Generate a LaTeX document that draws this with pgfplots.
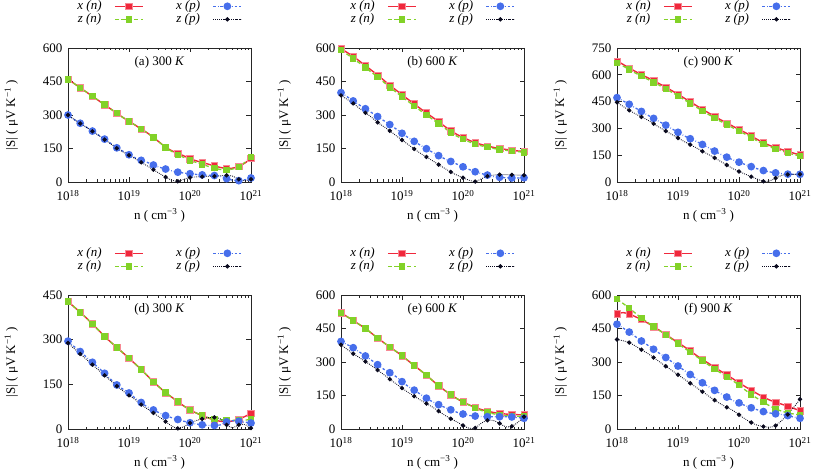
\documentclass[border=0pt]{standalone}
\usepackage{fontspec}
\setmainfont{Liberation Serif}
\usepackage{pgfplots}
\usepackage{pgfplotstable}
\pgfplotsset{compat=1.18}
\definecolor{cxn}{RGB}{240,40,60}
\definecolor{czn}{RGB}{130,210,40}
\definecolor{cxp}{RGB}{70,110,235}
\definecolor{czp}{RGB}{10,10,30}

\pgfplotstableread{
e xn zn xp zp
18.0 460 460 300 300
18.1 441 441 280 280
18.2 422 422 263 262
18.3 403 403 246 245
18.4 384 384 228 227
18.5 365 365 210 209
18.6 346 346 192 190
18.7 327 327 173 171
18.8 308 308 153 151
18.9 289 289 138 135
19.0 272 272 122 120
19.1 255 255 108 105
19.2 237 237 97 88
19.3 220 220 88 72
19.4 199 199 76 55
19.5 178 177 66 38
19.6 156 155 58 22
19.7 140 137 50 8
19.8 128 122 44 3
19.9 117 110 40 12
20.0 104 97 37 20
20.1 95 88 34 23
20.2 87 79 32 24
20.3 80 70 30 25
20.4 72 62 29 26
20.5 65 56 25 28
20.6 61 54 15 30
20.7 62 58 8 26
20.8 70 68 6 12
20.9 85 88 10 6
21.0 105 112 18 12
}\tabA

\pgfplotstableread{
e xn zn xp zp
18.0 597 590 400 388
18.1 580 572 382 370
18.2 562 553 363 352
18.3 542 533 345 330
18.4 521 512 328 310
18.5 500 491 311 290
18.6 479 470 293 267
18.7 456 447 275 248
18.8 433 424 257 229
18.9 412 403 238 208
19.0 391 382 218 188
19.1 370 361 199 168
19.2 350 341 182 148
19.3 329 320 165 129
19.4 309 300 149 112
19.5 290 281 133 95
19.6 270 261 118 78
19.7 249 241 104 61
19.8 230 222 92 45
19.9 213 205 80 31
20.0 200 192 68 19
20.1 187 180 56 8
20.2 176 170 46 2
20.3 168 162 38 14
20.4 161 156 31 26
20.5 155 150 25 31
20.6 150 146 21 33
20.7 146 142 19 33
20.8 142 139 18 32
20.9 139 136 18 31
21.0 137 133 19 30
}\tabB

\pgfplotstableread{
e xn zn xp zp
18.0 677 667 472 446
18.1 658 649 454 423
18.2 638 629 435 401
18.3 619 610 415 382
18.4 601 592 395 364
18.5 584 575 375 347
18.6 567 558 356 326
18.7 549 540 337 305
18.8 530 521 318 285
18.9 511 502 298 266
19.0 491 482 278 246
19.1 470 461 259 227
19.2 449 440 242 209
19.3 428 419 227 191
19.4 407 398 210 172
19.5 387 378 192 154
19.6 367 358 173 135
19.7 348 339 155 115
19.8 330 321 139 95
19.9 312 303 124 75
20.0 294 285 111 59
20.1 277 268 98 44
20.2 258 249 86 30
20.3 238 230 74 16
20.4 220 212 64 4
20.5 205 197 57 6
20.6 193 185 51 22
20.7 182 174 47 37
20.8 171 163 44 42
20.9 161 153 43 43
21.0 152 145 43 43
}\tabC

\pgfplotstableread{
e xn zn xp zp
18.0 428 428 295 289
18.1 410 410 277 270
18.2 392 392 260 252
18.3 373 373 242 234
18.4 353 353 224 216
18.5 332 332 206 198
18.6 311 311 187 180
18.7 292 292 167 162
18.8 274 274 148 144
18.9 256 256 134 128
19.0 238 238 121 113
19.1 219 219 104 99
19.2 200 200 89 82
19.3 179 179 74 68
19.4 158 158 64 54
19.5 140 140 54 40
19.6 122 122 45 25
19.7 107 107 38 10
19.8 92 92 32 2
19.9 77 77 26 8
20.0 64 64 21 20
20.1 54 54 17 28
20.2 45 45 14 34
20.3 37 38 12 38
20.4 30 33 12 39
20.5 26 31 14 34
20.6 25 30 24 14
20.7 27 29 28 4
20.8 33 29 26 14
20.9 42 30 23 15
21.0 52 32 20 3
}\tabD

\pgfplotstableread{
e xn zn xp zp
18.0 520 520 392 377
18.1 503 503 378 357
18.2 486 486 364 337
18.3 468 468 345 320
18.4 450 450 327 302
18.5 429 429 308 284
18.6 407 407 288 264
18.7 387 387 268 244
18.8 367 367 252 223
18.9 348 348 235 203
19.0 328 328 212 183
19.1 306 306 191 164
19.2 284 284 174 147
19.3 263 263 156 130
19.4 241 241 138 114
19.5 217 217 122 98
19.6 194 194 109 80
19.7 173 173 97 62
19.8 154 154 86 46
19.9 136 136 75 32
20.0 121 121 67 16
20.1 108 107 61 3
20.2 97 95 58 5
20.3 87 83 56 26
20.4 80 75 55 39
20.5 74 68 55 38
20.6 70 63 55 25
20.7 67 60 55 10
20.8 65 58 54 12
20.9 64 57 51 30
21.0 63 57 48 55
}\tabE

\pgfplotstableread{
e xn zn xp zp
18.0 516 582 469 401
18.1 521 562 452 395
18.2 515 541 434 387
18.3 503 519 414 372
18.4 490 497 394 355
18.5 475 478 376 339
18.6 458 459 357 320
18.7 441 441 338 300
18.8 423 422 320 281
18.9 405 402 301 262
19.0 387 382 282 243
19.1 369 363 263 224
19.2 350 344 244 205
19.3 330 325 225 186
19.4 312 306 207 167
19.5 294 287 190 148
19.6 276 269 173 129
19.7 259 251 158 112
19.8 242 233 143 97
19.9 225 216 128 83
20.0 207 196 117 64
20.1 190 175 105 45
20.2 174 155 95 29
20.3 158 137 86 17
20.4 143 120 78 11
20.5 130 104 72 8
20.6 120 90 68 15
20.7 111 80 65 38
20.8 102 72 60 65
20.9 92 67 53 98
21.0 82 63 48 133
}\tabF

\pgfplotsset{
 panel/.style={
  scale only axis, width=183pt, height=134pt,
  anchor=south west,
  xmin=18, xmax=21, ymin=0,
  xtick={18,19,20,21},
  xticklabels={10\textsuperscript{18},10\textsuperscript{19},10\textsuperscript{20},10\textsuperscript{21}},
  minor xtick={18.30103,18.47712,18.60206,18.69897,18.77815,18.84510,18.90309,18.95424,
               19.30103,19.47712,19.60206,19.69897,19.77815,19.84510,19.90309,19.95424,
               20.30103,20.47712,20.60206,20.69897,20.77815,20.84510,20.90309,20.95424},
  /pgf/number format/assume math mode=true,
  xticklabel style={yshift=-3.5pt},
  yticklabel style={xshift=-1pt},
  tick align=inside,
  major tick length=4.5pt, minor tick length=2.5pt,
  axis line style={line width=0.6pt, black!85},
  every tick/.style={black!85, line width=0.6pt},
  xlabel={n ( cm\textsuperscript{−3} )},
  ylabel={|S| ( μV K\textsuperscript{−1} )},
  x label style={at={(axis description cs:0.5,-0.25)}, anchor=center},
  y label style={at={(axis description cs:-0.31,0.5)}, anchor=center},
  legend columns=2, transpose legend, legend plot pos=right,
  legend style={at={(axis description cs:0.5,1)}, anchor=south, yshift=22pt,
     draw=none, fill=none, inner sep=0pt, row sep=0pt,
     nodes={inner sep=0.5pt, text height=9pt, text depth=3pt},
     /tikz/every odd column/.append style={column sep=12pt},
     /tikz/every even column/.append style={column sep=32pt}},
  legend image code/.code={\draw[mark repeat=2,mark phase=2,##1] plot coordinates {(0pt,0pt) (14pt,0pt) (28pt,0pt)};},
 },
 sxn/.style={color=cxn, solid, line width=1.4pt, smooth, mark=square*, mark size=3.2pt, mark repeat=2,
   mark options={solid, fill=cxn, draw=cxn!55!white, line width=0.6pt}},
 szn/.style={color=czn, dash pattern=on 4pt off 2.5pt, line width=1.3pt, smooth, mark=square*, mark size=2.6pt, mark repeat=2,
   mark options={solid, fill=czn, draw=czn}},
 sxp/.style={color=cxp, dash pattern=on 2.5pt off 2pt on 0.6pt off 2pt, line width=1.3pt, smooth, mark=*, mark size=3.2pt, mark repeat=2,
   mark options={solid, fill=cxp, draw=cxp}},
 szp/.style={color=czp, dash pattern=on 0.8pt off 1.2pt, line width=0.9pt, smooth, mark=*, mark size=1.7pt, mark repeat=2,
   mark options={solid, fill=czp, draw=czp}},
}

\newcommand{\fourplots}[2]{%
  \addplot[sxn] table[x=e,y=xn] {#1};
  \addplot[szn] table[x=e,y=zn] {#1};
  \addplot[sxp] table[x=e,y=xp] {#1};
  \addplot[szp] table[x=e,y=zp] {#1};
  \legend{\textit{x (n)},\textit{z (n)},\textit{x (p)},\textit{z (p)}}
  \node[anchor=center] at (rel axis cs:0.5,0.896) {#2};
}

\begin{document}
\fontsize{13}{15}\selectfont
\begin{tikzpicture}
\begin{axis}[panel, at={(68pt,292pt)}, ymax=600, ytick={0,150,300,450,600}]
\fourplots{\tabA}{(a) 300 \textit{K}}
\end{axis}
\begin{axis}[panel, at={(341pt,292pt)}, ymax=600, ytick={0,150,300,450,600}]
\fourplots{\tabB}{(b) 600 \textit{K}}
\end{axis}
\begin{axis}[panel, at={(617pt,292pt)}, ymax=750, ytick={0,150,300,450,600,750}]
\fourplots{\tabC}{(c) 900 \textit{K}}
\end{axis}
\begin{axis}[panel, at={(68pt,45pt)}, ymax=450, ytick={0,150,300,450}]
\fourplots{\tabD}{(d) 300 \textit{K}}
\end{axis}
\begin{axis}[panel, at={(341pt,45pt)}, ymax=600, ytick={0,150,300,450,600}]
\fourplots{\tabE}{(e) 600 \textit{K}}
\end{axis}
\begin{axis}[panel, at={(617pt,45pt)}, ymax=600, ytick={0,150,300,450,600}]
\fourplots{\tabF}{(f) 900 \textit{K}}
\end{axis}
\pgfresetboundingbox
\path[use as bounding box] (0pt,0pt) rectangle (813pt,474pt);
\end{tikzpicture}
\end{document}
